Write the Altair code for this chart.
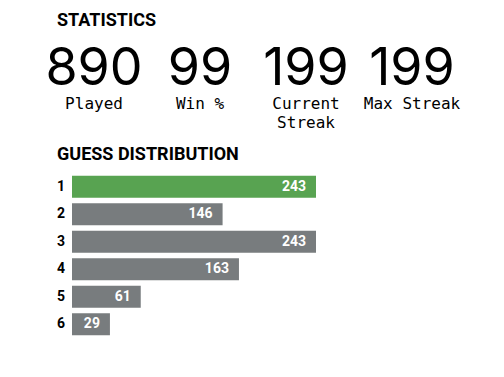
import altair as alt
import pandas as pd

# ---- data ----
stat_values = ["890", "99", "199", "199"]
stat_keys = ["Played", "Win %", "Current Streak", "Max Streak"]
stat_display = ["Played", "Win %", "Current\nStreak", "Max Streak"]

guesses = ["1", "2", "3", "4", "5", "6"]
counts = [243, 146, 243, 163, 61, 29]
last_guess = "1"

headings = ["STATISTICS", "GUESS DISTRIBUTION"]

GREEN = "#58a351"
GRAY = "#787c7e"

stats_df = pd.DataFrame({"key": stat_keys, "value": stat_values, "display": stat_display})
dist_df = pd.DataFrame({
    "guess": guesses,
    "count": counts,
    "status": ["last" if g == last_guess else "other" for g in guesses],
})

# ---- headings ----
def heading(text, y):
    return alt.Chart(pd.DataFrame({"t": [text]})).mark_text(
        align="left", baseline="alphabetic", font="Roboto", fontSize=18,
        fontWeight="bold", color="black"
    ).encode(x=alt.value(57), y=alt.value(y), text="t:N")

h1 = heading(headings[0], 26)
h2 = heading(headings[1], 160)

# ---- statistics ----
sx = alt.X("key:N", sort=stat_keys, axis=None,
           scale=alt.Scale(type="point", range=[94, 412], padding=0))
nums = alt.Chart(stats_df).mark_text(
    font="Inter", fontSize=52, baseline="alphabetic", color="black"
).encode(x=sx, y=alt.value(85), text="value:N")
labs = alt.Chart(stats_df).mark_text(
    font="DejaVu Sans Mono", fontSize=16, baseline="alphabetic",
    lineBreak="\n", lineHeight=19, color="black"
).encode(x=sx, y=alt.value(109), text="display:N")

# ---- guess distribution ----
gy = alt.Y("guess:N", sort=guesses, axis=None,
           scale=alt.Scale(range=[173, 338], paddingInner=0.2, paddingOuter=0.1))
xscale = alt.Scale(domain=[0, max(counts)], range=[82, 316], nice=False, zero=True)

bars = alt.Chart(dist_df).mark_bar(x2Offset=-10).encode(
    y=gy,
    x=alt.X("count:Q", scale=xscale, axis=None),
    x2=alt.datum(0),
    color=alt.Color("status:N", scale=alt.Scale(domain=["last", "other"],
                                                range=[GREEN, GRAY]), legend=None),
)
vals = alt.Chart(dist_df).mark_text(
    align="right", dx=-10, baseline="middle", color="white",
    font="Roboto", fontWeight="bold", fontSize=14
).encode(y=gy, x=alt.X("count:Q", scale=xscale, axis=None), text="count:Q")
glabels = alt.Chart(dist_df).mark_text(
    align="right", dx=-17, baseline="middle", color="black",
    font="Roboto", fontWeight="bold", fontSize=14
).encode(y=gy, x=alt.datum(0, scale=xscale), text="guess:N")

chart = alt.layer(h1, h2, nums, labs, bars, vals, glabels).resolve_scale(
    x="independent", y="independent"
).properties(
    width=504, height=377, autosize=alt.AutoSizeParams(type="none"), padding=0
).configure_view(stroke=None)

chart.save("out.html", embed_options={"renderer": "svg", "actions": False})
